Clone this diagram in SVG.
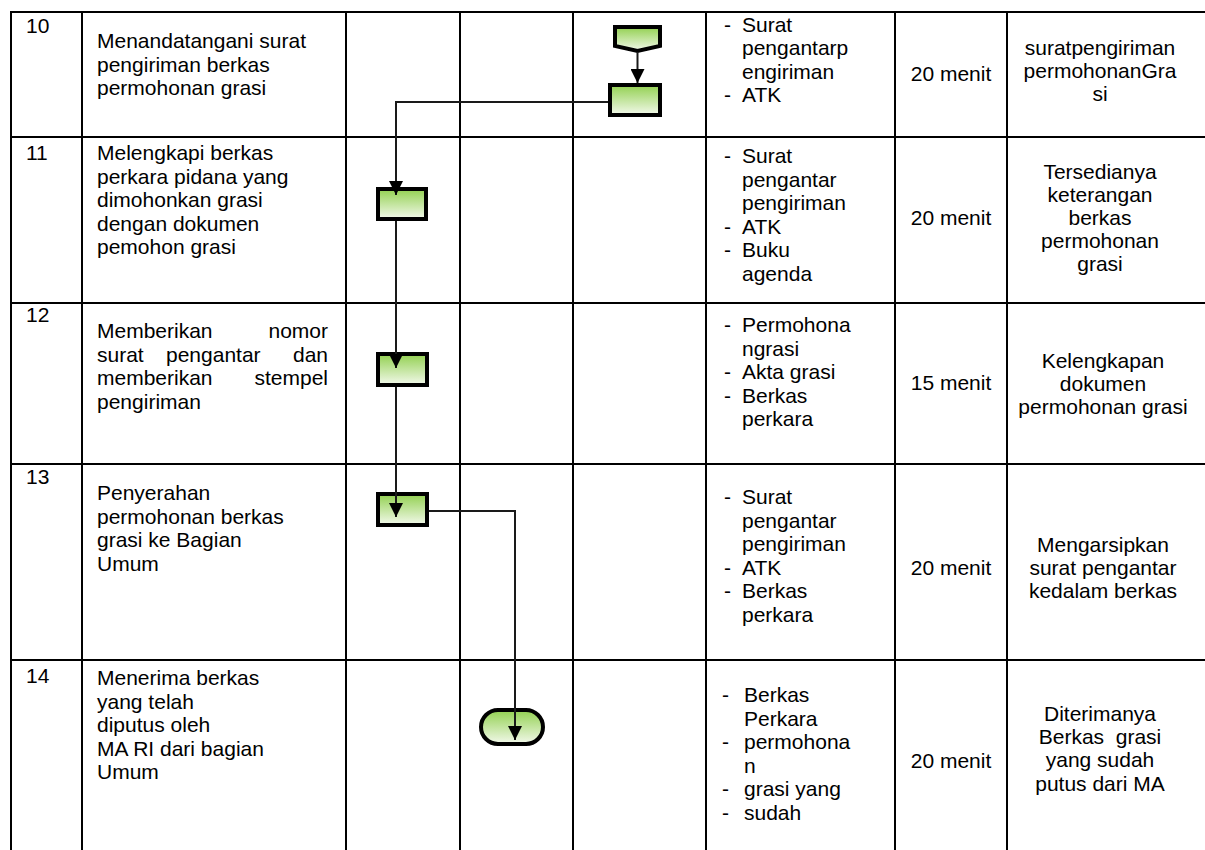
<svg xmlns="http://www.w3.org/2000/svg" width="1205" height="850" viewBox="0 0 1205 850">
  <defs>
    <linearGradient id="fillGreen" x1="0" y1="0" x2="0" y2="1">
      <stop offset="0" stop-color="#92D050"/>
      <stop offset="1" stop-color="#F3F9EC"/>
    </linearGradient>
    <marker id="arrow" viewBox="0 0 14 14" refX="14" refY="7" markerWidth="14" markerHeight="14" markerUnits="userSpaceOnUse" orient="auto">
      <path d="M0,0 L14,7 L0,14 z" fill="#000"/>
    </marker>
  </defs>
  <style>
    .grid line { stroke: #000; stroke-width: 2; }
    .t { font-family: "Liberation Sans", Arial, sans-serif; font-size: 21px; fill: #000; }
    .c { text-anchor: middle; }
    .e { text-anchor: end; }
    .shape { fill: url(#fillGreen); stroke: #000; stroke-width: 4; }
    .conn { fill: none; stroke: #1a1a1a; stroke-width: 2; marker-end: url(#arrow); }
  </style>

  <rect width="1205" height="850" fill="#fff"/>

  <!-- table grid -->
  <g id="grid" class="grid">
    <line x1="10" y1="12" x2="1205" y2="12"/>
    <line x1="10" y1="137" x2="1205" y2="137"/>
    <line x1="10" y1="303" x2="1205" y2="303"/>
    <line x1="10" y1="464" x2="1205" y2="464"/>
    <line x1="10" y1="660" x2="1205" y2="660"/>
    <line x1="11" y1="11" x2="11" y2="850"/>
    <line x1="82" y1="11" x2="82" y2="850"/>
    <line x1="346" y1="11" x2="346" y2="850"/>
    <line x1="460" y1="11" x2="460" y2="850"/>
    <line x1="573" y1="11" x2="573" y2="850"/>
    <line x1="706" y1="11" x2="706" y2="850"/>
    <line x1="895" y1="11" x2="895" y2="850"/>
    <line x1="1007" y1="11" x2="1007" y2="850"/>
  </g>

  <!-- step 10 -->
  <g id="row10" class="t">
    <text x="26" y="33">10</text>
    <text><tspan x="97" y="48">Menandatangani surat</tspan><tspan x="97" y="71.5">pengiriman berkas</tspan><tspan x="97" y="95">permohonan grasi</tspan></text>
    <text><tspan x="724" y="32">-</tspan><tspan x="724" y="102">-</tspan></text>
    <text><tspan x="742" y="32">Surat</tspan><tspan x="742" y="55">pengantarp</tspan><tspan x="742" y="78.5">engiriman</tspan><tspan x="742" y="102">ATK</tspan></text>
    <text class="c" x="951" y="81">20 menit</text>
    <text class="c"><tspan x="1100" y="55">suratpengiriman</tspan><tspan x="1100" y="78">permohonanGra</tspan><tspan x="1100" y="101">si</tspan></text>
  </g>

  <!-- step 11 -->
  <g id="row11" class="t">
    <text x="26" y="160">11</text>
    <text><tspan x="97" y="160">Melengkapi berkas</tspan><tspan x="97" y="183.5">perkara pidana yang</tspan><tspan x="97" y="207">dimohonkan grasi</tspan><tspan x="97" y="230.5">dengan dokumen</tspan><tspan x="97" y="254">pemohon grasi</tspan></text>
    <text><tspan x="724" y="163">-</tspan><tspan x="724" y="233.5">-</tspan><tspan x="724" y="257">-</tspan></text>
    <text><tspan x="742" y="163">Surat</tspan><tspan x="742" y="186.5">pengantar</tspan><tspan x="742" y="210">pengiriman</tspan><tspan x="742" y="233.5">ATK</tspan><tspan x="742" y="257">Buku</tspan><tspan x="742" y="280.5">agenda</tspan></text>
    <text class="c" x="951" y="225">20 menit</text>
    <text class="c"><tspan x="1100" y="179">Tersedianya</tspan><tspan x="1100" y="202">keterangan</tspan><tspan x="1100" y="225">berkas</tspan><tspan x="1100" y="248">permohonan</tspan><tspan x="1100" y="271">grasi</tspan></text>
  </g>

  <!-- step 12 -->
  <g id="row12" class="t">
    <text x="26" y="322">12</text>
    <text x="97" y="338">Memberikan</text>
    <text class="e" x="328" y="338">nomor</text>
    <text x="97" y="361.5">surat</text>
    <text x="166" y="361.5">pengantar</text>
    <text class="e" x="328" y="361.5">dan</text>
    <text x="97" y="385">memberikan</text>
    <text class="e" x="328" y="385">stempel</text>
    <text x="97" y="408.5">pengiriman</text>
    <text><tspan x="724" y="332">-</tspan><tspan x="724" y="379">-</tspan><tspan x="724" y="402.5">-</tspan></text>
    <text><tspan x="742" y="332">Permohona</tspan><tspan x="742" y="355.5">ngrasi</tspan><tspan x="742" y="379">Akta grasi</tspan><tspan x="742" y="402.5">Berkas</tspan><tspan x="742" y="426">perkara</tspan></text>
    <text class="c" x="951" y="390">15 menit</text>
    <text class="c"><tspan x="1103" y="368">Kelengkapan</tspan><tspan x="1103" y="391">dokumen</tspan><tspan x="1103" y="414">permohonan grasi</tspan></text>
  </g>

  <!-- step 13 -->
  <g id="row13" class="t">
    <text x="26" y="484">13</text>
    <text><tspan x="97" y="500">Penyerahan</tspan><tspan x="97" y="523.5">permohonan berkas</tspan><tspan x="97" y="547">grasi ke Bagian</tspan><tspan x="97" y="570.5">Umum</tspan></text>
    <text><tspan x="724" y="504">-</tspan><tspan x="724" y="574.5">-</tspan><tspan x="724" y="598">-</tspan></text>
    <text><tspan x="742" y="504">Surat</tspan><tspan x="742" y="527.5">pengantar</tspan><tspan x="742" y="551">pengiriman</tspan><tspan x="742" y="574.5">ATK</tspan><tspan x="742" y="598">Berkas</tspan><tspan x="742" y="621.5">perkara</tspan></text>
    <text class="c" x="951" y="575">20 menit</text>
    <text class="c"><tspan x="1103" y="552">Mengarsipkan</tspan><tspan x="1103" y="575">surat pengantar</tspan><tspan x="1103" y="598">kedalam berkas</tspan></text>
  </g>

  <!-- step 14 -->
  <g id="row14" class="t">
    <text x="26" y="683">14</text>
    <text><tspan x="97" y="685">Menerima berkas</tspan><tspan x="97" y="708.5">yang telah</tspan><tspan x="97" y="732">diputus oleh</tspan><tspan x="97" y="755.5">MA RI dari bagian</tspan><tspan x="97" y="779">Umum</tspan></text>
    <text><tspan x="722" y="702">-</tspan><tspan x="722" y="749">-</tspan><tspan x="722" y="796">-</tspan><tspan x="722" y="819.5">-</tspan></text>
    <text><tspan x="744" y="702">Berkas</tspan><tspan x="744" y="725.5">Perkara</tspan><tspan x="744" y="749">permohona</tspan><tspan x="744" y="772.5">n</tspan><tspan x="744" y="796">grasi yang</tspan><tspan x="744" y="819.5">sudah</tspan></text>
    <text class="c" x="951" y="768">20 menit</text>
    <text class="c" style="white-space:pre"><tspan x="1100" y="721">Diterimanya</tspan><tspan x="1100" y="744">Berkas  grasi</tspan><tspan x="1100" y="767">yang sudah</tspan><tspan x="1100" y="791">putus dari MA</tspan></text>
  </g>

  <!-- flow nodes -->
  <g id="node-offpage">
    <polygon class="shape" points="615,27 660,27 660,46 637.5,51 615,46"/>
  </g>
  <g id="node-10">
    <rect class="shape" x="610" y="85" width="50" height="30"/>
  </g>
  <g id="node-11">
    <rect class="shape" x="378" y="189" width="48" height="30"/>
  </g>
  <g id="node-12">
    <rect class="shape" x="378" y="354" width="49" height="31"/>
  </g>
  <g id="node-13">
    <rect class="shape" x="378" y="494" width="49" height="31"/>
  </g>
  <g id="node-14">
    <rect class="shape" x="481" y="710" width="62" height="34" rx="17" ry="17"/>
  </g>

  <!-- connectors -->
  <g id="connectors">
    <path class="conn" d="M637.5,52 V83"/>
    <path class="conn" d="M608,102 H396 V195"/>
    <path class="conn" d="M396,221 V368"/>
    <path class="conn" d="M396,387 V517"/>
    <path class="conn" d="M429,511 H515 V740"/>
  </g>
</svg>
